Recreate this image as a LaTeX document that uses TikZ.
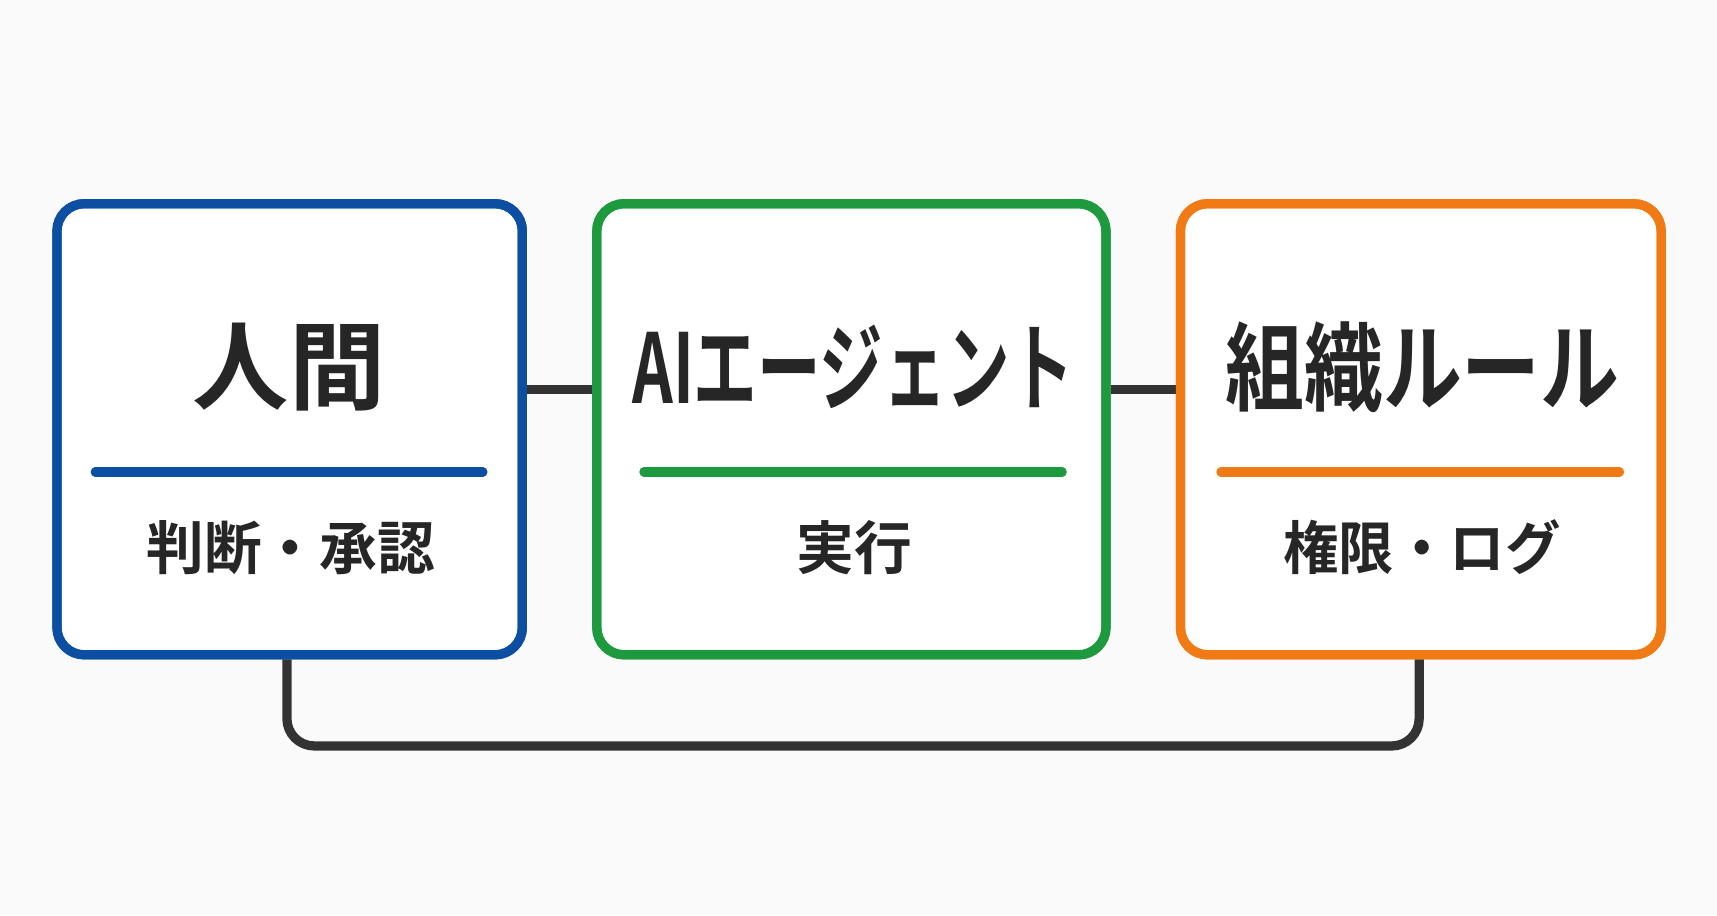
\documentclass[tikz,border=0pt]{standalone}
\usepackage{fontspec}
\setmainfont{Noto Sans CJK JP}[BoldFont={* Bold}]
\usetikzlibrary{positioning}
\definecolor{humanblue}{HTML}{0B4EA2}
\definecolor{agentgreen}{HTML}{1E9A3E}
\definecolor{ruleorange}{HTML}{F07A14}
\definecolor{linkgray}{HTML}{333333}
\definecolor{bggray}{HTML}{FAFAFA}

\begin{document}
\begin{tikzpicture}[
      box/.style={rectangle, draw, line width=2.4pt, rounded corners=0.25cm, fill=white, minimum height=4.12cm},
      title/.style={font=\bfseries\fontsize{25}{30}\selectfont, text=black!85},
      sub/.style={font=\bfseries\fontsize{15}{18}\selectfont, text=black!85},
      sep/.style={line width=2.4pt, line cap=round},
      link/.style={draw=linkgray, line width=2.4pt, rounded corners=0.25cm}]

      \fill[bggray] (0,0) rectangle (15.68,8.36);
      \useasboundingbox (0,0) rectangle (15.68,8.36);

      % Boxes
      \node[box, draw=humanblue, minimum width=4.25cm] (human) at (2.645,4.44) {};
      \node[box, draw=agentgreen, minimum width=4.65cm] (agent) at (7.775,4.44) {};
      \node[box, draw=ruleorange, minimum width=4.39cm] (rules) at (12.975,4.44) {};

      % Titles and subtitles
      \node[title] (humantitle) at (2.64,5.01) {人間};
      \node[title] (agenttitle) at (7.79,5.01) {\scalebox{0.66}[1]{AIエージェント}};
      \node[title] (rulestitle) at (12.99,5.01) {\scalebox{0.82}[1]{組織ルール}};
      \node[sub] (humansub) at (2.655,3.36) {判断・承認};
      \node[sub] (agentsub) at (7.80,3.36) {実行};
      \node[sub] (rulessub) at (12.985,3.36) {\scalebox{0.96}[1]{権限・ログ}};

      \draw[sep, humanblue] (0.87,4.05) -- (4.41,4.05);
      \draw[sep, agentgreen] (5.88,4.05) -- (9.70,4.05);
      \draw[sep, ruleorange] (11.15,4.05) -- (14.79,4.05);

      % Connectors
      \draw[link] ([yshift=0.36cm]human.east) -- ([yshift=0.36cm]agent.west);
      \draw[link] ([yshift=0.36cm]agent.east) -- ([yshift=0.36cm]rules.west);
      \draw[link] ([xshift=-0.025cm]human.south) -- ++(0,-0.79) -| ([xshift=-0.015cm]rules.south);

      % Redraw box outlines on top
      \node[box, draw=humanblue, fill=none, minimum width=4.25cm] at (human) {};
      \node[box, draw=agentgreen, fill=none, minimum width=4.65cm] at (agent) {};
      \node[box, draw=ruleorange, fill=none, minimum width=4.39cm] at (rules) {};
\end{tikzpicture}
\end{document}
